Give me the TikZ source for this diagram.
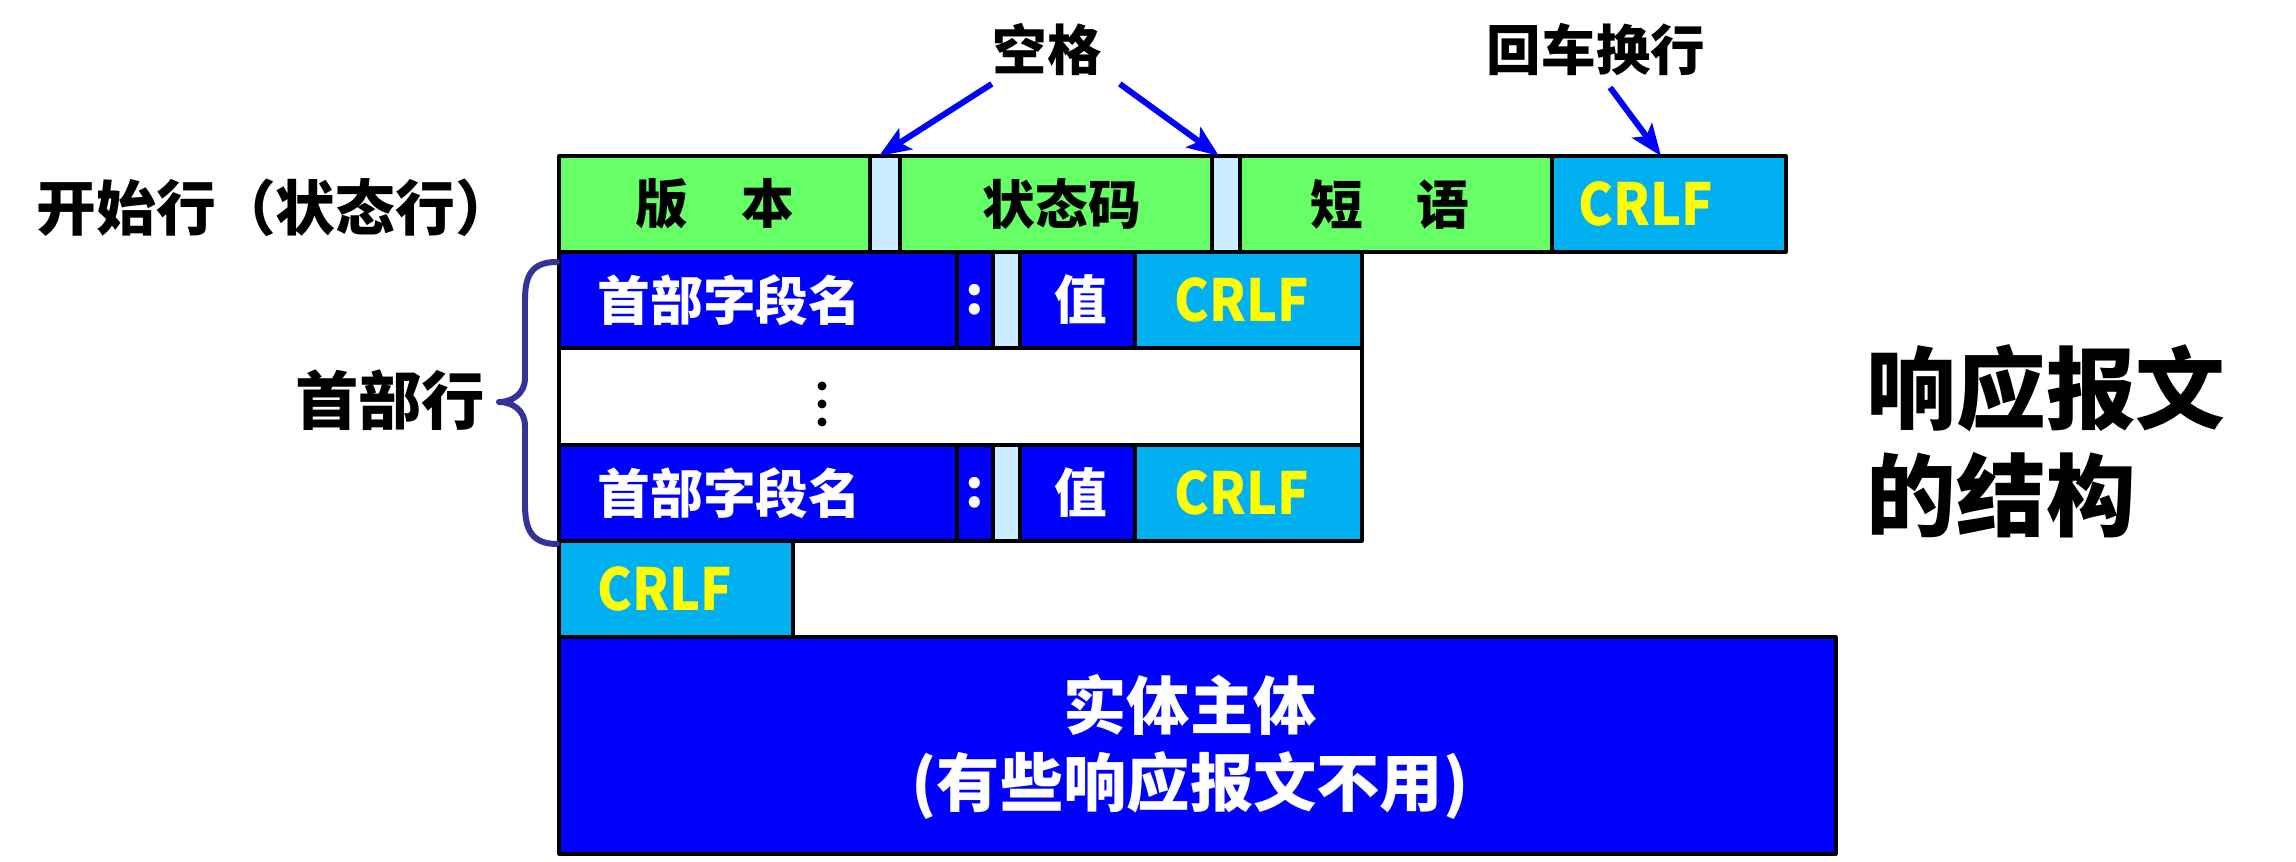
\documentclass[tikz,border=0pt]{standalone}
\usepackage{fontspec}
\setmainfont{Noto Sans CJK SC}
\usetikzlibrary{arrows.meta,positioning}

\definecolor{startgreen}{HTML}{66FF66}
\definecolor{gapblue}{HTML}{CCECFF}
\definecolor{fieldblue}{HTML}{0000FF}
\definecolor{crlfcyan}{HTML}{00B0F0}
\definecolor{crlfyellow}{HTML}{FFFF00}
\definecolor{bracenavy}{HTML}{333399}

\begin{document}
\begin{tikzpicture}[line cap=round,line join=round,x=0.01cm,y=-0.01cm,
    cell/.style={draw=black,line width=0.9pt},
    txt/.style={inner sep=0pt,font=\bfseries\fontsize{15}{18}\selectfont},
    crlftxt/.style={txt,text=crlfyellow,xscale=0.9,font=\bfseries\fontsize{16.5}{19}\selectfont},
    side/.style={inner sep=0pt,font=\bfseries\fontsize{17}{20}\selectfont},
    pointer/.style={draw=fieldblue,line width=1.7pt,line cap=butt,-{Stealth[length=9pt,width=7pt,inset=2pt]}}]
    \useasboundingbox (0,0) rectangle (2296,862);

    % start line
    \filldraw[cell,fill=startgreen] (559,156) rectangle (870,252);
    \filldraw[cell,fill=gapblue] (870,156) rectangle (900,252);
    \filldraw[cell,fill=startgreen] (900,156) rectangle (1212,252);
    \filldraw[cell,fill=gapblue] (1212,156) rectangle (1240,252);
    \filldraw[cell,fill=startgreen] (1240,156) rectangle (1552,252);
    \filldraw[cell,fill=crlfcyan] (1552,156) rectangle (1786,252);
    \node[txt] (ver) at (715,204) {版\hspace{1em}本};
    \node[txt] (code) at (1062,204) {状态码};
    \node[txt] (phrase) at (1390,204) {短\hspace{1em}语};
    \node[crlftxt,anchor=west] (crlf0) at (1578,204) {CRLF};

    % header lines
    \foreach \y/\n in {252/1,445/2}{
        \filldraw[cell,fill=fieldblue] (559,\y) rectangle (957,\y+96);
        \filldraw[cell,fill=fieldblue] (957,\y) rectangle (993,\y+96);
        \filldraw[cell,fill=gapblue] (993,\y) rectangle (1020,\y+96);
        \filldraw[cell,fill=fieldblue] (1020,\y) rectangle (1135,\y+96);
        \filldraw[cell,fill=crlfcyan] (1135,\y) rectangle (1362,\y+96);
        \node[txt,text=white,anchor=west] (name\n) at (597,\y+48) {首部字段名};
        \node[txt,text=white] (colon\n) at (975,\y+48) {:};
        \node[txt,text=white] (val\n) at (1081,\y+48) {值};
        \node[crlftxt] (crlf\n) at (1242,\y+48) {CRLF};
    }
    \draw[cell,fill=white] (559,348) rectangle (1362,445);
    \foreach \y in {386,404,422}
        \fill (822,\y) circle (4.5);

    % empty line and body
    \filldraw[cell,fill=crlfcyan] (559,541) rectangle (793,637);
    \node[crlftxt,anchor=west] (crlf3) at (597,589) {CRLF};
    \filldraw[cell,fill=fieldblue] (559,637) rectangle (1836,854);
    \node[txt,text=white,align=center,font=\bfseries\fontsize{18}{22}\selectfont] (body) at (1190,747) {实体主体\\(有些响应报文不用)};

    % labels
    \node[side] (startline) at (276,208) {开始行（状态行）};
    \node[side,font=\bfseries\fontsize{18}{21}\selectfont] (headers) at (390,400) {首部行};
    \node[txt,font=\bfseries\fontsize{15.5}{18}\selectfont] (space) at (1047,50) {空格};
    \node[txt,font=\bfseries\fontsize{15.5}{18}\selectfont] (newline) at (1596,50) {回车换行};
    \node[inner sep=0pt,anchor=west,align=left,font=\bfseries\fontsize{25.5}{30.5}\selectfont] (title) at (1866,441) {响应报文\\的结构};

    \coordinate (gap1) at (879,156);
    \coordinate (gap2) at (1219,156);
    \coordinate (crlftop) at (1661,156);
    \draw[pointer] ([yshift=-2pt]space.south west) -- (gap1);
    \draw[pointer] ([xshift=5pt,yshift=-2pt]space.south east) -- (gap2);
    \draw[pointer] ([xshift=4pt,yshift=-3pt]newline.south) -- (crlftop);

    \draw[draw=bracenavy,line width=1.7pt] (557,262) .. controls (532,262) and (525,275) .. (525,300) -- (525,378)
        .. controls (525,394) and (512,402) .. (499,402) .. controls (512,402) and (525,410) .. (525,426)
        -- (525,505) .. controls (525,530) and (532,544) .. (557,544);
\end{tikzpicture}
\end{document}
